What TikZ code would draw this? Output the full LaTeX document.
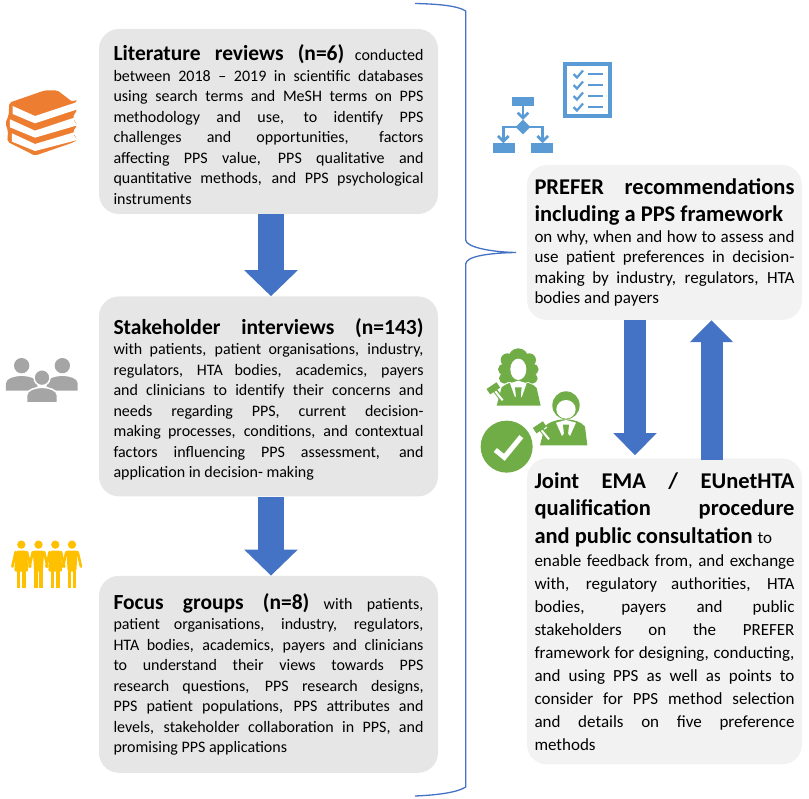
\documentclass[tikz,border=0pt]{standalone}
\usepackage{fontspec}
\setmainfont{Carlito}
\usetikzlibrary{positioning, arrows.meta, shapes.geometric}
\definecolor{leftgray}{HTML}{E7E6E6}
\definecolor{rightgray}{HTML}{F2F2F2}
\definecolor{arrowblue}{HTML}{4472C4}
\definecolor{iconblue}{HTML}{5B9BD5}
\definecolor{bookorange}{HTML}{ED7D31}
\definecolor{peoplegray}{HTML}{A5A5A5}
\definecolor{peopleyellow}{HTML}{FFC000}
\definecolor{judgegreen}{HTML}{70AD47}
\newcommand{\bodyfont}{\fontsize{16}{20.5}\selectfont}
\newcommand{\headfont}[1]{{\fontsize{21.5}{20.5}\selectfont\bfseries #1}}
\newcommand{\gavelicon}[4]{%
  \draw [draw=white, line width=9pt] (#1,#2) -- (#3,#4);
  \draw [draw=judgegreen, line width=4.5pt] ({(#1+#3)/2},{(#2+#4)/2}) -- ({(#1+#3)/2+30},{(#2+#4)/2+38});
  \draw [draw=white, line width=2pt] ({(#1+#3)/2+6},{(#2+#4)/2+9}) -- ({(#1+#3)/2+28},{(#2+#4)/2+36});
  \draw [draw=judgegreen, line width=6.5pt] (#1,#2) -- (#3,#4);
}
\tikzset{
  leftbox/.style={rectangle, rounded corners=20pt, fill=leftgray, text width=310pt, minimum width=339pt, align=justify, font=\bodyfont},
  lowertext/.style={execute at begin node={\rule{0pt}{22pt}}},
  rightbox/.style={rectangle, rounded corners=20pt, fill=rightgray, text width=260pt, minimum width=275pt, align=justify, font=\fontsize{17}{20.4}\selectfont},
  bigarrow/.style={draw=arrowblue, line width=26pt, -{Triangle[length=26pt,width=52pt]}},
  smallarrow/.style={draw=arrowblue, line width=22pt, -{Triangle[length=22pt,width=42pt]}},
  bracket/.style={draw=arrowblue, line width=1.3pt},
  iconline/.style={draw=iconblue, line width=2.7pt},
  iconhead/.style={draw=iconblue, line width=2.2pt},
}
\begin{document}
\begin{tikzpicture}[x=1pt,y=-1pt]
\useasboundingbox (0,0) rectangle (809,799);
% left column
\node (lit) [leftbox, lowertext, minimum height=185pt] at (268.5,121.5) {\headfont{Literature reviews (n=6)} conducted\linebreak
between 2018 – 2019 in scientific databases\linebreak
using search terms and MeSH terms on PPS\linebreak
methodology and use, to identify PPS\linebreak
challenges and opportunities, factors\linebreak
affecting PPS value, PPS qualitative and\linebreak
quantitative methods, and PPS psychological\linebreak
instruments};
\node (inter) [leftbox, lowertext, minimum height=200pt, below=82pt of lit] {\headfont{Stakeholder interviews (n=143)}\linebreak
with patients, patient organisations, industry,\linebreak
regulators, HTA bodies, academics, payers\linebreak
and clinicians to identify their concerns and\linebreak
needs regarding PPS, current decision-\linebreak
making processes, conditions, and contextual\linebreak
factors influencing PPS assessment, and\linebreak
application in decision- making};
\node (focus) [leftbox, minimum height=197pt, below=79pt of inter] {\headfont{Focus groups (n=8)} with patients,\linebreak
patient organisations, industry, regulators,\linebreak
HTA bodies, academics, payers and clinicians\linebreak
to understand their views towards PPS\linebreak
research questions, PPS research designs,\linebreak
PPS patient populations, PPS attributes and\linebreak
levels, stakeholder collaboration in PPS, and\linebreak
promising PPS applications};
% right column
\node (prefer) [rightbox, minimum height=155pt] at (664.5,242.5) {{\fontsize{22.5}{27.5}\selectfont\bfseries PREFER recommendations\linebreak
including a PPS framework\par}
on why, when and how to assess and\linebreak
use patient preferences in decision-\linebreak
making by industry, regulators, HTA\linebreak
bodies and payers};
\node (joint) [rightbox, font=\fontsize{17}{23}\selectfont, minimum height=306pt, below=138pt of prefer] {{\fontsize{22.5}{27.5}\selectfont\bfseries Joint EMA / EUnetHTA\linebreak
qualification procedure\linebreak
and public consultation {\fontsize{17}{20.4}\selectfont\mdseries to}\par}
enable feedback from, and exchange\linebreak
with, regulatory authorities, HTA\linebreak
bodies, payers and public\linebreak
stakeholders on the PREFER\linebreak
framework for designing, conducting,\linebreak
and using PPS as well as points to\linebreak
consider for PPS method selection\linebreak
and details on five preference\linebreak
methods};
% block arrows
\draw [bigarrow] ([xshift=2.5pt]lit.south) -- ([xshift=2.5pt]inter.north);
\draw [bigarrow] ([xshift=2.5pt]inter.south) -- ([xshift=2.5pt]focus.north);
\draw [smallarrow] ([xshift=-29.5pt]prefer.south) -- ([xshift=-29.5pt,yshift=3pt]joint.north);
\draw [smallarrow] ([xshift=47pt,yshift=-2pt]joint.north) -- ([xshift=47pt]prefer.south);
% bracket
\draw [bracket] (415,3.5) .. controls (440,4) and (458,6) .. (465.7,11) -- (465.7,240)
  .. controls (466,247) and (490,252) .. (516,252.5)
  .. controls (490,253) and (466,256) .. (465.7,264) -- (465.7,787)
  .. controls (458,792) and (440,795) .. (415,796);
% books icon
\begin{scope}[shift={(0,90)},x=.3333pt,y=-.3333pt]
  \fill [bookorange, rounded corners=2pt] (28,38) -- (135,1) -- (172,1) -- (218,36) -- (232,28) -- (218,50)
    -- (232,58) -- (218,82) -- (232,106) -- (218,125) -- (232,150) -- (218,158) -- (105,197) -- (22,155)
    -- (24,122) -- (16,100) -- (26,76) -- cycle;
  \fill [white] (38,48) -- (105,78) -- (232,36) -- (222,50) -- (232,58) -- (105,100) -- (38,72) -- cycle;
  \fill [white] (30,88) -- (105,122) -- (232,80) -- (222,92) -- (232,106) -- (105,143) -- (30,112) -- cycle;
  \fill [white] (36,130) -- (105,162) -- (232,124) -- (222,136) -- (232,150) -- (105,183) -- (36,155) -- cycle;
\end{scope}
% flow chart icon
\begin{scope}[shift={(480,50)},x=.3333pt,y=-.3333pt]
  \fill [iconblue] (96,140) rectangle (162,168);
  \fill [iconblue] (38,280) rectangle (104,308);
  \fill [iconblue] (154,280) rectangle (220,308);
  \fill [iconblue] (129,209) -- (151,231) -- (129,253) -- (107,231) -- cycle;
  \draw [iconline] (129,168) -- (129,202);
  \draw [iconline] (70,272) -- (70,231) -- (110,231);
  \draw [iconline] (188,272) -- (188,231) -- (148,231);
  \foreach \tipx/\tipy in {129/204, 70/274, 188/274} {
    \draw [iconline] (\tipx-16,\tipy-16) -- (\tipx,\tipy) -- (\tipx+16,\tipy-16);
  }
\end{scope}
% check list icon
\draw [draw=iconblue, line width=4pt] (564.7,64.5) rectangle (610,116);
\foreach \liney in {74,85,96,107} {
  \draw [iconhead] (573.5,\liney) -- (577,\liney+3.5) -- (583,\liney-3.5);
  \draw [iconhead] (588,\liney) -- (603,\liney);
}
% gray people icon
\begin{scope}[shift={(0,340)},x=.3333pt,y=-.3333pt]
  \fill [peoplegray] (65,77) circle (23);
  \fill [peoplegray] (187,77) circle (23);
  \fill [peoplegray] (18,152) -- (18,130) .. controls (18,115) and (45,108) .. (65,108) .. controls (85,108) and (112,115) .. (112,130) -- (112,152) -- cycle;
  \fill [peoplegray] (140,152) -- (140,130) .. controls (140,115) and (167,108) .. (187,108) .. controls (207,108) and (233,115) .. (233,130) -- (233,152) -- cycle;
  \fill [peoplegray, draw=white, line width=1.5pt] (126,113) circle (24);
  \fill [peoplegray, draw=white, line width=1.5pt] (80,189) -- (80,165) .. controls (80,150) and (106,142) .. (126,142) .. controls (146,142) and (172,150) .. (172,165) -- (172,189) -- cycle;
\end{scope}
% yellow people icon
\begin{scope}[shift={(0,340)},x=.3333pt,y=-.3333pt]
  \foreach \px in {64,115.5,166,216} {
    \fill [peopleyellow] (\px,614) circle (12.5);
  }
  \foreach \px in {64,166} {
    \fill [peopleyellow, rounded corners=2pt] (\px-17,632) -- (\px+17,632) -- (\px+21,695) -- (\px-21,695) -- cycle;
    \fill [peopleyellow] (\px-14,690) rectangle (\px-3,745);
    \fill [peopleyellow] (\px+3,690) rectangle (\px+14,745);
    \draw [peopleyellow, line width=2.6pt, line cap=round] (\px-17,636) -- (\px-27,680);
    \draw [peopleyellow, line width=2.6pt, line cap=round] (\px+17,636) -- (\px+27,680);
  }
  \foreach \px in {115.5,216} {
    \fill [peopleyellow, rounded corners=2pt] (\px-17,632) -- (\px+17,632) -- (\px+13,695) -- (\px-13,695) -- cycle;
    \fill [peopleyellow] (\px-13,690) rectangle (\px-2,745);
    \fill [peopleyellow] (\px+2,690) rectangle (\px+13,745);
    \draw [peopleyellow, line width=2.6pt, line cap=round] (\px-17,636) -- (\px-27,680);
    \draw [peopleyellow, line width=2.6pt, line cap=round] (\px+17,636) -- (\px+27,680);
  }
\end{scope}
% judges icon
\begin{scope}[shift={(470,340)},x=.3333pt,y=-.3333pt]
  % woman
  \fill [judgegreen] (145,55) circle (30);
  \foreach \curlx/\curly/\curlr in {112/60/20, 178/60/20, 101/88/17, 189/88/17, 103/115/16, 187/115/16} {
    \fill [judgegreen] (\curlx,\curly) circle (\curlr);
  }
  \fill [judgegreen] (110,60) rectangle (180,125);
  \fill [judgegreen] (80,197) -- (95,142) .. controls (110,130) and (125,125) .. (145,125) .. controls (170,125) and (190,132) .. (200,144) -- (212,197) -- cycle;
  \fill [white] (145,88) ellipse (24 and 32);
  \fill [white] (120,130) -- (145,122) -- (170,130) -- (155,172) -- (145,160) -- (135,172) -- cycle;
  \fill [judgegreen] (135,142) -- (155,142) -- (150,190) -- (145,195) -- (140,190) -- cycle;
  \gavelicon{55}{155}{85}{135}
  % man
  \fill [judgegreen] (288,196) ellipse (41 and 42);
  \fill [white] (288,208) ellipse (29 and 28);
  \fill [judgegreen] (210,316) -- (225,258) .. controls (240,244) and (265,238) .. (288,238) .. controls (310,238) and (335,246) .. (345,260) -- (352,316) -- cycle;
  \fill [white] (258,248) -- (288,240) -- (318,248) -- (300,288) -- (288,274) -- (276,288) -- cycle;
  \fill [judgegreen] (279,254) -- (297,254) -- (292,304) -- (288,310) -- (284,304) -- cycle;
  \gavelicon{194}{272}{224}{252}
  % check
  \fill [judgegreen] (110,320) circle (78);
  \draw [draw=white, line width=5pt] (76,330) -- (103,352) -- (154,290);
\end{scope}
\end{tikzpicture}
\end{document}
